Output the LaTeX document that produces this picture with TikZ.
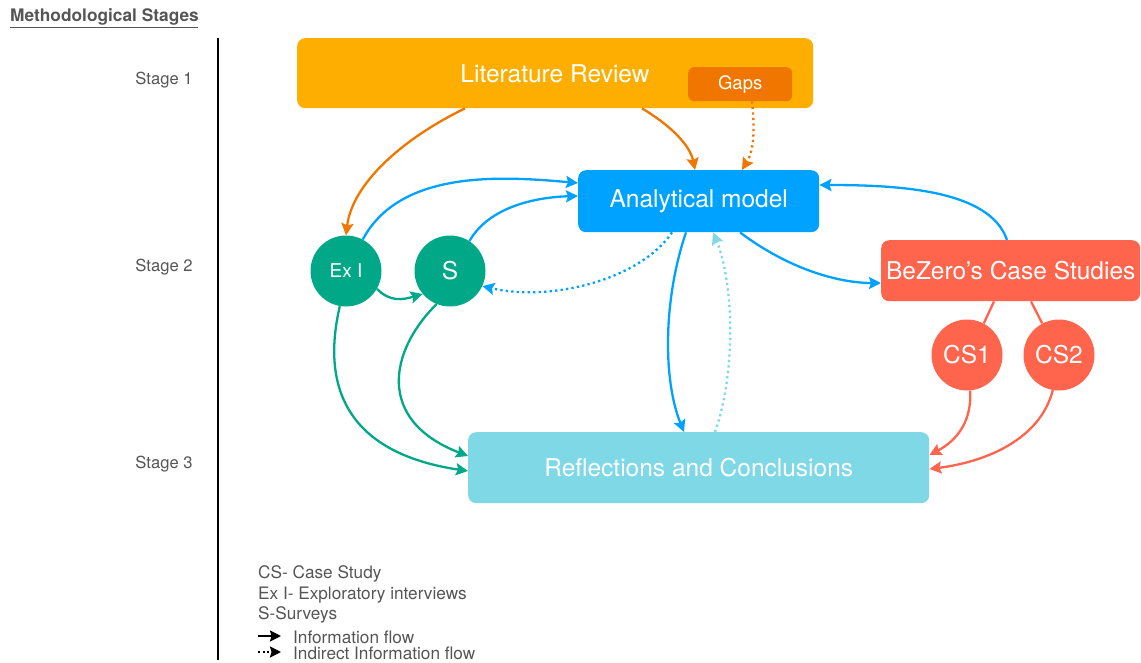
\documentclass[tikz,border=0pt]{standalone}
\usepackage{fontspec}
\setmainfont{TeX Gyre Heros}
\usetikzlibrary{arrows.meta,calc}
\definecolor{litc}{HTML}{FEAE00}
\definecolor{gapc}{HTML}{F07600}
\definecolor{bluec}{HTML}{00A2FF}
\definecolor{greenc}{HTML}{00A887}
\definecolor{redc}{HTML}{FF644D}
\definecolor{lightc}{HTML}{7FD8E6}
\definecolor{grayt}{HTML}{555555}
\tikzset{
  boxnode/.style={anchor=north west, rounded corners=8pt, inner sep=0pt, text=white, font=\fontsize{24.5}{28}\selectfont},
  circnode/.style={circle, minimum size=71pt, inner sep=0pt, text=white, font=\fontsize{24.5}{28}\selectfont},
  flow/.style={line width=2.3pt, -{Stealth[length=12pt,width=12pt,inset=2pt]}},
  indirect/.style={flow, dash pattern=on 2.3pt off 3.2pt},
  stagelbl/.style={text=grayt, font=\fontsize{16.6}{19}\selectfont},
  legendtxt/.style={anchor=west, text=grayt, font=\fontsize{17.2}{20}\selectfont, inner sep=0pt},
}
\begin{document}
\begin{tikzpicture}[x=1pt,y=-1pt]
\useasboundingbox (0,0) rectangle (1141,662);
% title
\node[anchor=west, inner sep=0pt, text=grayt, font=\bfseries\fontsize{17.3}{20}\selectfont] (title) at (10,17) {Methodological Stages};
\draw[grayt, line width=1pt] (10,27) -- (198,27);
\draw[black, line width=1.2pt] (218,38) -- (218,660);
% stages
\node[stagelbl] (st1) at (164,80) {Stage 1};
\node[stagelbl] (st2) at (164,267) {Stage 2};
\node[stagelbl] (st3) at (164,464) {Stage 3};
% boxes
\node[boxnode, fill=litc, minimum width=516pt, minimum height=70pt] (lit) at (297,38) {};
\node[text=white, font=\fontsize{24.5}{28}\selectfont] (littxt) at (555,74) {Literature Review};
\node[boxnode, fill=gapc, rounded corners=6pt, minimum width=104pt, minimum height=34pt, font=\fontsize{18.5}{21}\selectfont] (gaps) at (688,67) {Gaps};
\node[boxnode, fill=bluec, minimum width=241pt, minimum height=62pt] (am) at (578,170) {Analytical model};
\node[boxnode, fill=redc, minimum width=259pt, minimum height=61pt] (bz) at (881,240) {BeZero’s Case Studies};
\node[boxnode, fill=lightc, minimum width=461pt, minimum height=71pt] (rc) at (468,432) {Reflections and Conclusions};
% circles
\node[circnode, fill=greenc, font=\fontsize{19}{22}\selectfont] (exi) at (346,271) {Ex I};
\node[circnode, fill=greenc] (s) at (450,271) {S};
\node[circnode, fill=redc] (cs1) at (967,355) {CS1};
\node[circnode, fill=redc] (cs2) at (1059,355) {CS2};
% orange
\draw[flow, gapc] ([xshift=168pt]lit.south west) .. controls (400,140) and (352,185) .. (exi.north);
\draw[flow, gapc] ([xshift=345pt]lit.south west) .. controls (670,125) and (690,145) .. ([xshift=117pt]am.north west);
\draw[indirect, gapc] ([xshift=64pt]gaps.south west) .. controls (755,130) and (754,150) .. ([xshift=164pt]am.north west);
% blue
\draw[flow, bluec] (exi.62) .. controls (400,170) and (500,176) .. ([yshift=-13pt]am.north west);
\draw[flow, bluec] (s.57) .. controls (490,205) and (540,197) .. ([yshift=-26pt]am.north west);
\draw[indirect, bluec] ([xshift=94pt]am.south west) .. controls (640,280) and (550,302) .. (s.-25);
\draw[flow, bluec] ([xshift=108pt]am.south west) .. controls (663,300) and (663,380) .. ([xshift=216pt]rc.north west);
\draw[indirect, lightc] ([xshift=247pt]rc.north west) .. controls (737,370) and (733,280) .. ([xshift=135pt]am.south west);
\draw[flow, bluec] ([xshift=162pt]am.south west) .. controls (790,270) and (840,283) .. ([yshift=-43pt]bz.north west);
\draw[flow, bluec] ([xshift=126pt]bz.north west) .. controls (990,190) and (900,185) .. ([yshift=-15pt]am.north east);
% green
\draw[flow, greenc] (exi.-30) .. controls (390,302) and (402,300) .. (s.-140);
\draw[flow, greenc] (exi.-100) .. controls (318,400) and (360,455) .. ([yshift=-39pt]rc.north west);
\draw[flow, greenc] (s.-112) .. controls (390,350) and (375,420) .. ([yshift=-24pt]rc.north west);
% red
\draw[redc, line width=2.3pt] ([xshift=113pt]bz.south west) -- (cs1.62);
\draw[redc, line width=2.3pt] ([xshift=150pt]bz.south west) -- (cs2.118);
\draw[flow, redc] (cs1.-85) .. controls (972,420) and (958,440) .. ([yshift=-23pt]rc.north east);
\draw[flow, redc] (cs2.-100) .. controls (1040,440) and (985,462) .. ([yshift=-37pt]rc.north east);
% legend
\node[legendtxt] (l1) at (258,574) {CS- Case Study};
\node[legendtxt] (l2) at (258,595) {Ex I- Exploratory interviews};
\node[legendtxt] (l3) at (258,615) {S-Surveys};
\node[legendtxt] (l4) at (293,637) {Information flow};
\node[legendtxt] (l5) at (293,653) {Indirect Information flow};
\coordinate (a1s) at (258,636);
\coordinate (a1e) at (281,636);
\coordinate (a2s) at (258,652);
\coordinate (a2e) at (281,652);
\draw[line width=2pt, -{Stealth[length=11pt,width=11pt,inset=1.5pt]}] (a1s) -- (a1e);
\draw[line width=2pt, dash pattern=on 2pt off 2.5pt, -{Stealth[length=11pt,width=11pt,inset=1.5pt]}] (a2s) -- (a2e);
\end{tikzpicture}
\end{document}
